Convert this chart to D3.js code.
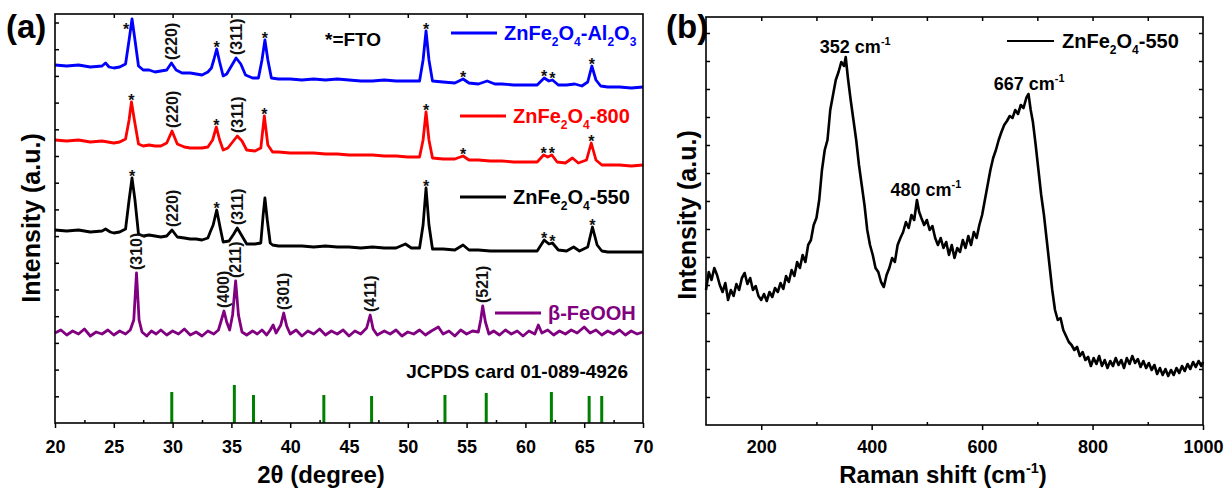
<!DOCTYPE html>
<html>
<head>
<meta charset="utf-8">
<script src="https://cdn.jsdelivr.net/npm/d3@7"></script>
<style>
body { margin: 0; background: #fff; }
text { font-family: "Liberation Sans", Arial, sans-serif; font-weight: bold; }
</style>
</head>
<body>
<script>

/*** Data ***/

// (a) XRD patterns, [2theta, intensity a.u.] (patterns already stacked)
const xrdAl2O3 = [
  [20,358],[21,357],[22,358],[23,356],[24,357],[24.3,360],[24.6,356],[25,355],[25.5,356],[26,359],
  [26.3,383],[26.55,404],[26.8,383],[27.1,357],[27.5,353],[28,353],[28.5,351],[29,352],[29.5,353],
  [29.9,360],[30.3,353],[30.8,350],[31.5,350],[32,349],[32.5,348],[33,351],[33.3,355],[33.5,363],
  [33.75,374],[34,361],[34.3,347],[34.6,349],[35,357],[35.4,365],[35.8,359],[36.2,348],[36.8,345],
  [37.3,345],[37.6,363],[37.85,383],[38.1,363],[38.4,345],[39,344],[40,344],[41,343],[42,344],
  [43,343],[44,344],[45,343],[46,342],[47,342],[48,343],[49,342],[50,342],[51,342],[51.3,363],
  [51.55,392],[51.8,363],[52.1,342],[53,341],[54,340],[54.7,344],[55.2,340],[56,339],[56.75,342],
  [57.4,339],[58,339],[59,338],[60,338],[61,338],[61.6,345],[62,342],[62.3,343],[62.8,338],
  [63.5,338],[64.2,339],[64.8,337],[65.3,341],[65.65,357],[66,343],[66.4,337],[67,336],[68,336],
  [69,335],[70,336]
]
const xrd800 = [
  [20,283],[21,282],[22,283],[23,281],[24,282],[25,280],[25.5,281],[26,284],[26.3,303],[26.5,321],
  [26.75,303],[27.1,279],[27.5,277],[28,278],[28.5,277],[29,277],[29.5,280],[29.95,292],[30.4,279],
  [31,276],[31.5,275],[32,275],[32.5,275],[33,276],[33.4,283],[33.72,296],[34,283],[34.3,273],
  [34.7,275],[35.1,281],[35.5,287],[35.9,282],[36.3,273],[37,272],[37.5,275],[37.8,307],[38.1,278],
  [38.5,271],[39,271],[40,270],[41,270],[42,270],[43,269],[44,269],[45,268],[46,268],[47,268],
  [48,267],[49,267],[50,266],[51,266],[51.3,283],[51.55,311],[51.8,283],[52.1,265],[53,264],
  [54,264],[54.7,267],[55.2,263],[56,263],[57,262],[58,262],[59,261],[60,261],[61,261],[61.55,268],
  [61.9,266],[62.25,268],[62.7,261],[63.4,260],[64,265],[64.5,260],[65.2,263],[65.6,280],[66,263],
  [66.5,258],[67,258],[68,258],[69,257],[70,258]
]
const xrd550 = [
  [20,193],[21,192],[22,193],[23,191],[24,192],[24.3,194],[24.7,191],[25,190],[25.5,191],[26,194],
  [26.3,223],[26.55,245],[26.8,223],[27.1,189],[27.5,187],[28,188],[28.5,187],[29,186],[29.5,187],
  [29.95,193],[30.4,186],[31,185],[31.5,184],[32,184],[32.5,183],[33,185],[33.2,191],[33.45,198],
  [33.75,213],[34.05,195],[34.3,181],[34.8,182],[35.2,189],[35.5,195],[35.9,187],[36.3,179],[37,179],
  [37.5,180],[37.7,208],[37.85,225],[38.05,203],[38.3,180],[38.5,178],[39,177],[40,177],[41,177],
  [42,176],[43,177],[44,176],[45,176],[46,175],[47,176],[48,175],[49,175],[49.8,179],[50.3,175],
  [51,175],[51.3,198],[51.55,235],[51.8,198],[52.1,174],[53,174],[54,173],[54.7,178],[55.2,173],
  [56,173],[57,172],[58,172],[59,172],[60,172],[61,172],[61.6,183],[62,179],[62.3,180],[62.8,173],
  [63.5,172],[64.1,176],[64.6,172],[65.3,176],[65.7,196],[66.1,178],[66.5,172],[67,171],[68,171],
  [69,171],[70,171]
]
const xrdFeOOH = [
  [20,90],[20.5,93],[21,88],[21.5,92],[22,89],[22.5,94],[23,87],[23.5,91],[24,89],[24.5,93],[25,88],
  [25.5,92],[26,89],[26.4,93],[26.7,103],[26.93,150],[27.15,103],[27.4,91],[27.8,87],[28.2,92],
  [28.6,89],[29,93],[29.5,88],[30,92],[30.5,89],[31,94],[31.5,88],[32,91],[32.5,87],[33,92],[33.5,89],
  [33.9,93],[34.15,103],[34.37,112],[34.6,101],[34.85,93],[35.1,108],[35.36,142],[35.6,108],[35.9,91],
  [36.3,88],[36.8,92],[37.2,89],[37.6,93],[38,88],[38.3,93],[38.55,98],[38.8,90],[39.2,98],[39.45,110],
  [39.7,97],[40,89],[40.5,93],[41,87],[41.5,92],[42,89],[42.5,94],[43,88],[43.5,92],[44,89],[44.5,93],
  [45,87],[45.5,92],[46,89],[46.5,95],[46.8,108],[47.05,94],[47.4,88],[48,92],[48.5,89],[49,93],
  [49.5,87],[50,91],[50.5,89],[51,93],[51.5,88],[52,92],[52.6,96],[53,89],[53.5,92],[54,87],[54.5,93],
  [55,89],[55.5,92],[56,91],[56.2,103],[56.37,117],[56.6,101],[56.9,89],[57.3,92],[57.8,88],[58.3,93],
  [58.8,89],[59.3,92],[59.8,87],[60.3,92],[60.8,89],[61.1,98],[61.4,90],[61.9,93],[62.4,88],[62.9,92],
  [63.4,89],[63.9,93],[64.4,90],[65,96],[65.5,90],[66,93],[66.5,88],[67,92],[67.5,89],[68,93],
  [68.5,88],[69,92],[69.5,89],[70,91]
]

// JCPDS card 01-089-4926 reference lines
const jcpdsPos = [29.93, 35.25, 36.88, 42.86, 46.92, 53.16, 56.67, 62.21, 65.42, 66.49]
const jcpdsInt = [31, 38, 28, 28, 27, 28, 30, 31, 27, 27]

// FTO peaks (*) and hkl labels
const starsAl2O3 = [26.55, 33.75, 37.85, 51.55, 54.7, 61.6, 62.3, 65.65]
const stars800 = [26.5, 33.72, 37.8, 51.55, 54.7, 61.55, 62.25, 65.6]
const stars550 = [26.55, 33.75, 51.55, 61.6, 62.3, 65.7]
const hklAl2O3 = [["(220)", 29.9], ["(311)", 35.4]]
const hkl800 = [["(220)", 29.95], ["(311)", 35.5]]
const hkl550 = [["(220)", 29.95], ["(311)", 35.5]]
const hklFeOOH = [["(310)", 26.93], ["(400)", 34.37], ["(211)", 35.36], ["(301)", 39.45], ["(411)", 46.8], ["(521)", 56.37]]

// (b) Raman spectrum of ZnFe2O4-550, [shift cm-1, intensity a.u.]
const raman = [
  [100,135],[105,153],[110,145],[115,157],[120,150],[125,140],[130,133],[135,142],[140,125],[145,135],
  [150,129],[155,141],[160,135],[165,147],[170,152],[175,141],[180,147],[185,135],[190,139],[195,129],
  [200,125],[205,131],[210,124],[215,133],[220,128],[225,137],[230,133],[235,142],[240,136],[245,149],
  [250,143],[255,155],[260,149],[265,163],[270,157],[275,170],[280,163],[285,180],[290,185],[295,200],
  [300,207],[305,225],[310,255],[315,275],[320,285],[325,315],[330,330],[335,345],[340,353],[345,363],
  [350,359],[353,368],[357,347],[362,325],[367,305],[372,285],[377,260],[382,240],[387,220],[392,195],
  [397,180],[402,170],[407,157],[412,153],[417,143],[422,138],[427,150],[432,157],[437,167],[442,163],
  [447,180],[452,187],[457,193],[462,203],[467,197],[472,210],[477,205],[482,225],[486,213],[490,207],
  [495,200],[500,205],[505,195],[510,199],[515,187],[520,180],[525,187],[530,177],[535,183],[540,170],
  [545,180],[550,167],[555,177],[560,173],[565,185],[570,177],[575,189],[580,180],[585,193],[590,187],
  [595,200],[600,210],[605,225],[610,240],[615,255],[620,267],[625,275],[630,285],[635,293],[640,300],
  [645,304],[650,309],[655,307],[660,315],[665,311],[670,320],[675,317],[680,327],[684,331],[688,315],
  [692,303],[697,280],[702,255],[707,230],[712,210],[717,185],[722,160],[727,135],[732,115],[737,105],
  [742,107],[747,95],[752,89],[757,83],[762,80],[767,75],[772,78],[777,69],[782,73],[787,65],[792,68],
  [797,59],[802,67],[807,61],[812,69],[817,59],[822,65],[827,57],[832,64],[837,59],[842,67],[847,60],
  [852,65],[857,57],[862,67],[867,61],[872,69],[877,62],[882,66],[887,58],[892,64],[897,57],[902,62],
  [907,55],[912,60],[917,51],[922,57],[927,50],[932,56],[937,49],[942,55],[947,50],[952,57],[957,52],
  [962,59],[967,54],[972,61],[977,56],[982,63],[987,58],[992,64],[997,59],[1000,63]
]
const ramanPeaks = [352, 480, 667]

/*** Layout ***/

const svgWidth = 1226
const svgHeight = 492
const A = {l: 55, r: 643, t: 14, b: 423}
const B = {l: 706, r: 1203, t: 17, b: 425}

let svg = d3.select("body")
  .append("svg")
  .attr("width", svgWidth)
  .attr("height", svgHeight)
  .style("background-color", "white")

/* helper for text with sub/superscripts */
function richText(g, x, y, parts, size, color, anchor) {
  let t = g.append("text")
    .attr("x", x).attr("y", y)
    .attr("font-size", size)
    .attr("fill", color)
    .attr("text-anchor", anchor || "start")
  let shift = 0
  parts.forEach(([s, k]) => {
    let target = k === "sub" ? size * 0.32 : k === "sup" ? -size * 0.42 : 0
    t.append("tspan")
      .attr("dy", target - shift)
      .attr("font-size", k ? size * 0.6 : size)
      .text(s)
    shift = target
  })
  return t
}

function styleAxis(g, size) {
  g.attr("font-size", size)
    .attr("font-family", '"Liberation Sans", Arial, sans-serif')
    .attr("font-weight", "bold")
  g.select(".domain").remove()
  g.selectAll("line").attr("stroke-width", 1.5)
}

/*** (a) XRD ***/

let xA = d3.scaleLinear().domain([20, 70]).range([A.l, A.r])
let yA = d3.scaleLinear().domain([0, A.b - A.t]).range([A.b, A.t])

let gA = svg.append("g")

gA.append("g")
  .attr("transform", `translate(0, ${A.b})`)
  .call(d3.axisBottom(xA).tickValues(d3.range(20, 71, 5)).tickSize(5).tickSizeOuter(0).tickPadding(12))
  .call(g => styleAxis(g, 18))
gA.append("g")
  .attr("transform", `translate(0, ${A.b})`)
  .call(d3.axisBottom(xA).tickValues(d3.range(22.5, 70, 5)).tickSize(-3).tickSizeOuter(0).tickFormat(""))
  .call(g => styleAxis(g, 18))
gA.append("g")
  .attr("transform", `translate(0, ${A.t})`)
  .call(d3.axisTop(xA).tickValues(d3.range(25, 70, 5)).tickSize(-4).tickSizeOuter(0).tickFormat(""))
  .call(g => styleAxis(g, 18))
gA.append("g")
  .attr("transform", `translate(${A.l}, 0)`)
  .call(d3.axisLeft(yA).tickValues(d3.range(26.7, A.b - A.t, 26.7)).tickSize(-4).tickSizeOuter(0).tickFormat(""))
  .call(g => styleAxis(g, 18))

// JCPDS sticks
gA.selectAll("line.stick")
  .data(jcpdsPos)
  .enter()
  .append("line")
  .attr("class", "stick")
  .attr("x1", d => xA(d)).attr("x2", d => xA(d))
  .attr("y1", yA(0))
  .attr("y2", (d, i) => yA(jcpdsInt[i]))
  .attr("stroke", "#008000")
  .attr("stroke-width", 3)

let lineA = d3.line().x(d => xA(d[0])).y(d => yA(d[1]))

const seriesA = [
  {data: xrdAl2O3, color: "#0000ff", stars: starsAl2O3, hkl: hklAl2O3},
  {data: xrd800, color: "#ff0000", stars: stars800, hkl: hkl800},
  {data: xrd550, color: "#000000", stars: stars550, hkl: hkl550},
  {data: xrdFeOOH, color: "#800080", stars: [], hkl: hklFeOOH}
]

function peakAt(data, pos) {
  return data.reduce((a, b) => Math.abs(b[0] - pos) < Math.abs(a[0] - pos) ? b : a)
}

seriesA.forEach(s => {
  gA.append("path")
    .datum(s.data)
    .attr("d", lineA)
    .attr("fill", "none")
    .attr("stroke", s.color)
    .attr("stroke-width", 2.8)
    .attr("stroke-linejoin", "round")

  s.stars.forEach(p => {
    let pk = peakAt(s.data, p)
    let px = xA(pk[0]), py = yA(pk[1])
    if (py - 14 < A.t) { px -= 6; py += 12 }
    gA.append("text")
      .attr("x", px).attr("y", py + 4)
      .attr("text-anchor", "middle")
      .attr("font-size", 16)
      .attr("fill", "#111")
      .text("*")
  })

  s.hkl.forEach(([lab, p]) => {
    let pk = peakAt(s.data, p)
    let px = xA(pk[0]) + 5.5, py = yA(pk[1]) - 3
    gA.append("text")
      .attr("transform", `translate(${px}, ${py}) rotate(-90)`)
      .attr("font-size", 16)
      .attr("fill", "#111")
      .text(lab)
  })
})

// frame
gA.append("rect")
  .attr("x", A.l).attr("y", A.t)
  .attr("width", A.r - A.l).attr("height", A.b - A.t)
  .attr("fill", "none")
  .attr("stroke", "black")
  .attr("stroke-width", 1.6)

// legend (a)
const legendA = [
  {color: "#0000ff", x: 451, y: 33, parts: [["ZnFe"], ["2", "sub"], ["O"], ["4", "sub"], ["-Al"], ["2", "sub"], ["O"], ["3", "sub"]]},
  {color: "#ff0000", x: 460, y: 116, parts: [["ZnFe"], ["2", "sub"], ["O"], ["4", "sub"], ["-800"]]},
  {color: "#000000", x: 460, y: 197, parts: [["ZnFe"], ["2", "sub"], ["O"], ["4", "sub"], ["-550"]]},
  {color: "#800080", x: 495, y: 313, parts: [["β-FeOOH"]]}
]
legendA.forEach(d => {
  gA.append("line")
    .attr("x1", d.x).attr("x2", d.x + 46)
    .attr("y1", d.y).attr("y2", d.y)
    .attr("stroke", d.color).attr("stroke-width", 2.8)
  richText(gA, d.x + 53, d.y + 7, d.parts, 20, d.color)
})

gA.append("text")
  .attr("x", 325).attr("y", 46)
  .attr("font-size", 19)
  .text("*=FTO")

gA.append("text")
  .attr("x", 628).attr("y", 378)
  .attr("text-anchor", "end")
  .attr("font-size", 19)
  .text("JCPDS card 01-089-4926")

gA.append("text")
  .attr("x", 321).attr("y", 483)
  .attr("text-anchor", "middle")
  .attr("font-size", 24)
  .text("2θ (degree)")

gA.append("text")
  .attr("transform", "translate(40, 218) rotate(-90)")
  .attr("text-anchor", "middle")
  .attr("font-size", 25)
  .text("Intensity (a.u.)")

svg.append("text")
  .attr("x", 6).attr("y", 38)
  .attr("font-size", 33)
  .text("(a)")

/*** (b) Raman ***/

let xB = d3.scaleLinear().domain([100, 1000]).range([B.l, B.r])
let yB = d3.scaleLinear().domain([0, B.b - B.t]).range([B.b, B.t])

let gB = svg.append("g")

gB.append("g")
  .attr("transform", `translate(0, ${B.b})`)
  .call(d3.axisBottom(xB).tickValues(d3.range(200, 1001, 200)).tickFormat(d3.format("d")).tickSize(5).tickSizeOuter(0).tickPadding(10))
  .call(g => styleAxis(g, 18))
gB.append("g")
  .attr("transform", `translate(0, ${B.b})`)
  .call(d3.axisBottom(xB).tickValues(d3.range(300, 1000, 200)).tickSize(-3).tickSizeOuter(0).tickFormat(""))
  .call(g => styleAxis(g, 18))
gB.append("g")
  .attr("transform", `translate(0, ${B.t})`)
  .call(d3.axisTop(xB).tickValues(d3.range(200, 1000, 100)).tickSize(-4).tickSizeOuter(0).tickFormat(""))
  .call(g => styleAxis(g, 18))
gB.append("g")
  .attr("transform", `translate(${B.l}, 0)`)
  .call(d3.axisLeft(yB).tickValues(d3.range(28, B.b - B.t, 28)).tickSize(-4).tickSizeOuter(0).tickFormat(""))
  .call(g => styleAxis(g, 18))
gB.append("g")
  .attr("transform", `translate(${B.r}, 0)`)
  .call(d3.axisRight(yB).tickValues(d3.range(28, B.b - B.t, 28)).tickSize(-4).tickSizeOuter(0).tickFormat(""))
  .call(g => styleAxis(g, 18))

gB.append("path")
  .datum(raman)
  .attr("d", d3.line().x(d => xB(d[0])).y(d => yB(d[1])))
  .attr("fill", "none")
  .attr("stroke", "black")
  .attr("stroke-width", 2.6)
  .attr("stroke-linejoin", "round")

ramanPeaks.forEach(p => {
  let near = raman.filter(d => Math.abs(d[0] - p) <= 18)
  let top = d3.max(near, d => d[1])
  richText(gB, xB(p) + 10, yB(top) - 4, [[p + " cm"], ["-1", "sup"]], 18, "black", "middle")
})

gB.append("rect")
  .attr("x", B.l).attr("y", B.t)
  .attr("width", B.r - B.l).attr("height", B.b - B.t)
  .attr("fill", "none")
  .attr("stroke", "black")
  .attr("stroke-width", 1.6)

gB.append("line")
  .attr("x1", 1007).attr("x2", 1054)
  .attr("y1", 41).attr("y2", 41)
  .attr("stroke", "black").attr("stroke-width", 2)
richText(gB, 1062, 48, [["ZnFe"], ["2", "sub"], ["O"], ["4", "sub"], ["-550"]], 20, "black")

gB.append("text")
  .attr("transform", "translate(696, 215) rotate(-90)")
  .attr("text-anchor", "middle")
  .attr("font-size", 25)
  .text("Intensity (a.u.)")

richText(gB, 943, 483, [["Raman shift (cm"], ["-1", "sup"], [")"]], 24, "black", "middle")

svg.append("text")
  .attr("x", 666).attr("y", 38)
  .attr("font-size", 33)
  .text("(b)")

</script>
</body>
</html>
